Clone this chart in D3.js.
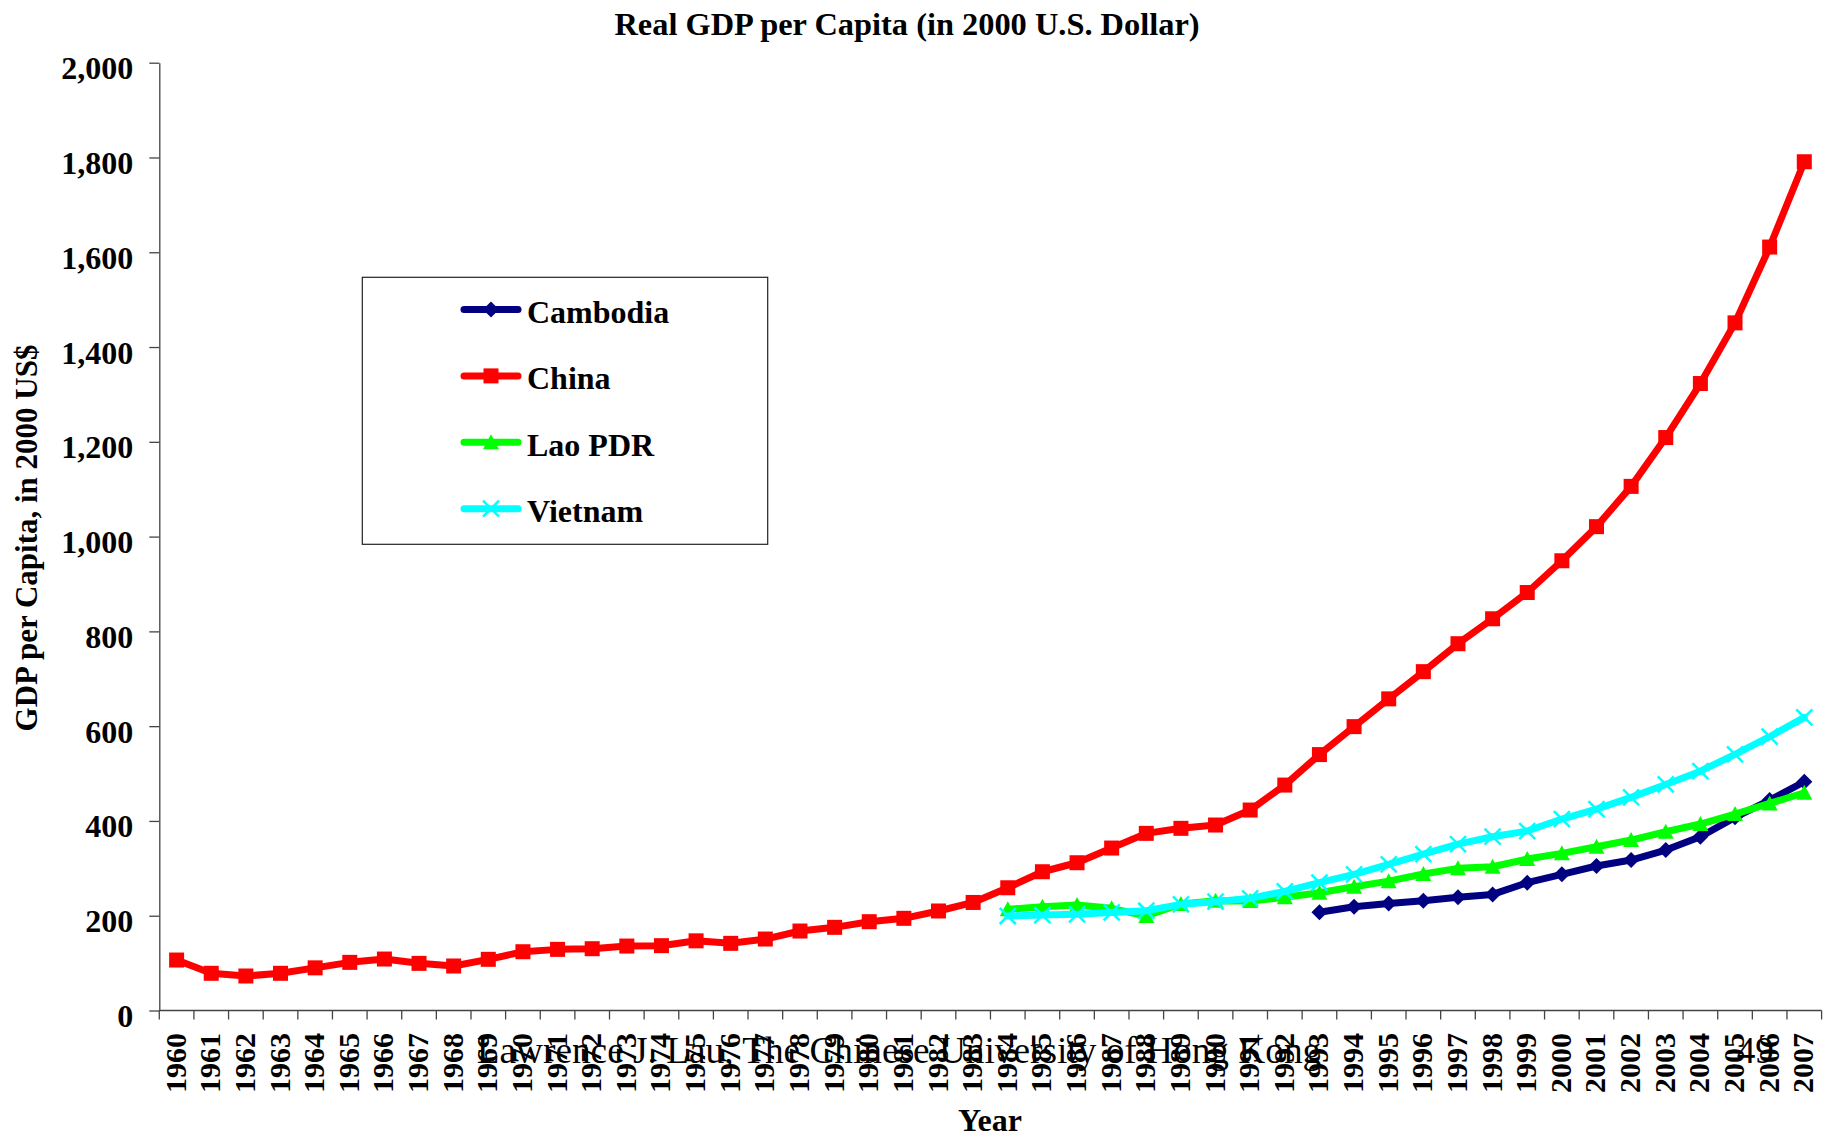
<!DOCTYPE html>
<html>
<head>
<meta charset="utf-8">
<title>Real GDP per Capita</title>
<script src="https://cdn.jsdelivr.net/npm/d3@7"></script>
<style>
  body { margin: 0; background: #fff; }
  svg { display: block; font-family: 'Liberation Serif', 'Times New Roman', serif; }
</style>
</head>
<body>
<div id="chart"></div>
<script>
// values, 2000 US$ per head
const years = d3.range(1960, 2008)

const china = [
  106.5, 78.5, 72.8, 78.5, 90, 101.6, 108.6, 99.5, 93.9, 108,
  124, 129, 130.4, 136, 136.8, 147, 141.7, 150.8, 167.7, 175.5,
  187.4, 194.5, 210, 228, 259, 292.8, 311.8, 342.8, 373.8, 384.4,
  391.4, 423, 475.7, 540, 599, 657.6, 715, 774, 826.6, 882,
  949, 1021, 1106, 1209, 1323, 1451, 1611, 1791
]

// Lao and Vietnam start in 1984, Cambodia in 1993
const laoStart = 1984
const lao = [
  213.5, 219, 222.6, 215.6, 199.4, 224.7, 231.7, 231, 239, 248.6,
  261, 273, 288, 300, 303.4, 319.6, 331.6, 345.6, 359.7, 377.2,
  393.5, 414.6, 437, 459.5
]

const vietnamStart = 1984
const vietnam = [
  199.4, 201.5, 203, 207, 210.5, 224, 229.6, 236.7, 251.5, 269.7,
  287.3, 308.4, 330, 351, 366.7, 378.7, 404, 425, 449.7, 477,
  505, 540.4, 577.7, 618.5
]

const cambodiaStart = 1993
const cambodia = [
  207.2, 219, 226, 231.7, 238.8, 245, 269.7, 287.3, 304.9, 317.5,
  338.6, 366.7, 407.6, 444, 482.7
]

const yTicks = d3.range(0, 2001, 200)

const toPoints = (start, values) => values.map((v, i) => ({ year: start + i, value: v }))

// drawing order matters: later series sit on top
const series = [
  { name: 'Cambodia', color: '#000080', marker: 'diamond', data: toPoints(cambodiaStart, cambodia) },
  { name: 'China', color: '#ff0000', marker: 'square', data: toPoints(1960, china) },
  { name: 'Lao PDR', color: '#00ff00', marker: 'triangle', data: toPoints(laoStart, lao) },
  { name: 'Vietnam', color: '#00ffff', marker: 'cross', data: toPoints(vietnamStart, vietnam) }
]

const width = 1823
const height = 1138
const plot = { left: 159.3, right: 1821.6, top: 62.7, bottom: 1010.5 }

const svg = d3.select('#chart')
  .append('svg')
  .attr('width', width)
  .attr('height', height)

const x = d3.scaleBand()
  .domain(years)
  .range([plot.left, plot.right])
  .padding(0)

const y = d3.scaleLinear()
  .domain([0, 2000])
  .range([plot.bottom, plot.top])

const cx = d => x(d) + x.bandwidth() / 2

// title
svg.append('text')
  .attr('x', 907)
  .attr('y', 35)
  .attr('text-anchor', 'middle')
  .attr('font-size', 32.4)
  .attr('font-weight', 'bold')
  .text('Real GDP per Capita (in 2000 U.S. Dollar)')

// y axis
const yAxis = svg.append('g')
  .attr('transform', `translate(${plot.left},0)`)
  .call(d3.axisLeft(y)
    .tickValues(yTicks)
    .tickFormat(d3.format(','))
    .tickSize(10)
    .tickSizeOuter(0)
    .tickPadding(16))

yAxis.selectAll('path, line')
  .attr('stroke', '#444')
  .attr('stroke-width', 1.3)
yAxis.selectAll('text')
  .attr('font-family', "'Liberation Serif', 'Times New Roman', serif")
  .attr('font-size', 32)
  .attr('font-weight', 'bold')
  .attr('fill', '#000')
  .attr('dy', '0.5em')

svg.append('text')
  .attr('transform', 'translate(26,538) rotate(-90)')
  .attr('text-anchor', 'middle')
  .attr('dy', '0.35em')
  .attr('font-size', 31)
  .attr('font-weight', 'bold')
  .text('GDP per Capita, in 2000 US$')

// x axis: category ticks sit between the years
const xAxis = svg.append('g')

xAxis.append('line')
  .attr('x1', plot.left)
  .attr('x2', plot.right)
  .attr('y1', plot.bottom)
  .attr('y2', plot.bottom)
  .attr('stroke', '#444')
  .attr('stroke-width', 1.3)

xAxis.selectAll('.tick')
  .data(years.concat([null]))
  .enter()
  .append('line')
  .attr('x1', d => d === null ? plot.right : x(d))
  .attr('x2', d => d === null ? plot.right : x(d))
  .attr('y1', plot.bottom)
  .attr('y2', plot.bottom + 9)
  .attr('stroke', '#444')
  .attr('stroke-width', 1.3)

xAxis.selectAll('.year')
  .data(years)
  .enter()
  .append('text')
  .attr('transform', d => `translate(${cx(d)},1033) rotate(-90)`)
  .attr('text-anchor', 'end')
  .attr('dy', '0.3em')
  .attr('font-size', 30)
  .attr('font-weight', 'bold')
  .text(d => d)

svg.append('text')
  .attr('x', 990)
  .attr('y', 1131)
  .attr('text-anchor', 'middle')
  .attr('font-size', 32)
  .attr('font-weight', 'bold')
  .text('Year')

// markers
const drawMarker = (sel, type, color) => {
  if (type === 'square') {
    sel.append('rect')
      .attr('x', -7.5).attr('y', -7.5)
      .attr('width', 15).attr('height', 15)
      .attr('fill', color)
  } else if (type === 'diamond') {
    sel.append('path')
      .attr('d', 'M0,-8L8,0L0,8L-8,0Z')
      .attr('fill', color)
  } else if (type === 'triangle') {
    sel.append('path')
      .attr('d', 'M0,-8L8,7L-8,7Z')
      .attr('fill', color)
  } else {
    sel.append('path')
      .attr('d', 'M-8,-8L8,8M-8,8L8,-8')
      .attr('stroke', color)
      .attr('stroke-width', 2.5)
      .attr('fill', 'none')
  }
}

const line = d3.line()
  .x(d => cx(d.year))
  .y(d => y(d.value))

series.forEach(s => {
  const g = svg.append('g')

  g.append('path')
    .datum(s.data)
    .attr('fill', 'none')
    .attr('stroke', s.color)
    .attr('stroke-width', 7)
    .attr('stroke-linejoin', 'round')
    .attr('stroke-linecap', 'round')
    .attr('d', line)

  g.selectAll('.pt')
    .data(s.data)
    .enter()
    .append('g')
    .attr('transform', d => `translate(${cx(d.year)},${y(d.value)})`)
    .each(function () { drawMarker(d3.select(this), s.marker, s.color) })
})

// legend
const legend = svg.append('g')

legend.append('rect')
  .attr('x', 362.3)
  .attr('y', 277.3)
  .attr('width', 405.4)
  .attr('height', 267)
  .attr('fill', '#fff')
  .attr('stroke', '#222')
  .attr('stroke-width', 1.2)

series.forEach((s, i) => {
  const ly = 309.5 + i * 66.4
  const item = legend.append('g')

  item.append('line')
    .attr('x1', 464)
    .attr('x2', 518)
    .attr('y1', ly)
    .attr('y2', ly)
    .attr('stroke', s.color)
    .attr('stroke-width', 7)
    .attr('stroke-linecap', 'round')

  item.append('g')
    .attr('transform', `translate(491,${ly})`)
    .call(sel => drawMarker(sel, s.marker, s.color))

  item.append('text')
    .attr('x', 527)
    .attr('y', ly + 13.5)
    .attr('font-size', 32)
    .attr('font-weight', 'bold')
    .text(s.name)
})

// slide footer, overlapping the year labels as in the original
svg.append('text')
  .attr('x', 476.7)
  .attr('y', 1063)
  .attr('font-size', 37.3)
  .text('Lawrence J. Lau, The Chinese University of Hong Kong')

svg.append('text')
  .attr('x', 1736.7)
  .attr('y', 1063)
  .attr('font-size', 37.3)
  .text('49')
</script>
</body>
</html>
